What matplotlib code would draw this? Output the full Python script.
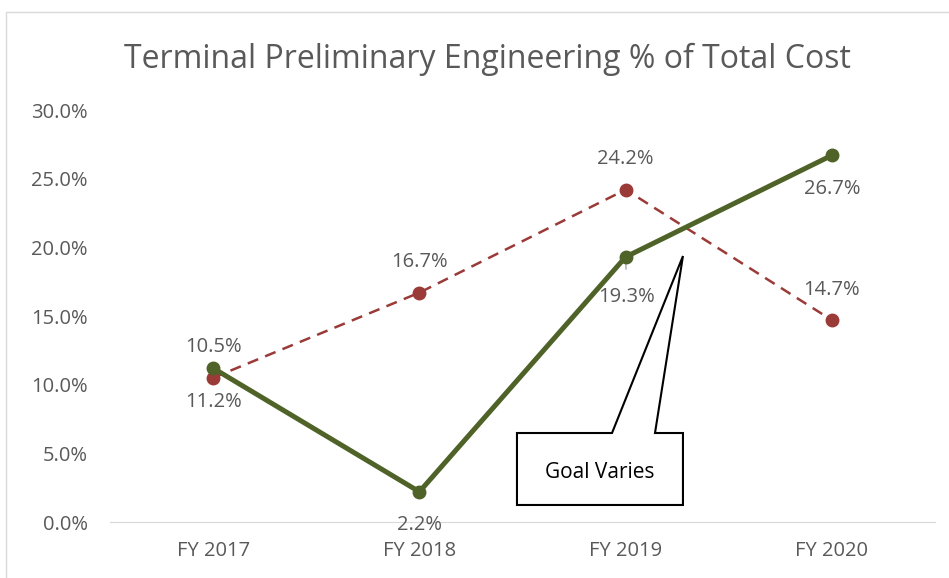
import matplotlib
matplotlib.use("Agg")
import matplotlib.pyplot as plt
from matplotlib.patches import Polygon, Rectangle
from matplotlib.ticker import PercentFormatter

# ── data ──────────────────────────────────────────────
years = ["FY 2017", "FY 2018", "FY 2019", "FY 2020"]
goal_pct = [10.5, 16.7, 24.2, 14.7]      # red dashed
actual_pct = [11.2, 2.2, 19.3, 26.7]     # green solid
title = "Terminal Preliminary Engineering % of Total Cost"

RED = "#9A3B38"
GREEN = "#4F6228"
GRAY = "#595959"

plt.rcParams["font.family"] = ["Open Sans", "DejaVu Sans"]

fig = plt.figure(figsize=(9.49, 5.78), dpi=100)
ax = fig.add_axes([110 / 949, 56 / 578, 825 / 949, 412 / 578])

# chart border
fig.patches.append(Rectangle((6 / 949, -0.1), 1.2, (578 - 12) / 578 + 0.1,
                             transform=fig.transFigure, fill=False,
                             edgecolor="#D9D9D9", linewidth=1.0))

x = list(range(len(years)))
ax.plot(x, goal_pct, color=RED, linewidth=1.8, linestyle=(0, (4.5, 3)),
        marker="o", markersize=9, zorder=3)
ax.plot(x, actual_pct, color=GREEN, linewidth=3.6, solid_capstyle="round",
        marker="o", markersize=9, zorder=4)

for i, v in enumerate(goal_pct):
    ax.annotate(f"{v:.1f}%", (i, v), xytext=(0, 22), textcoords="offset points",
                ha="center", va="center", fontsize=14.5, color=GRAY)
for i, v in enumerate(actual_pct):
    dy, dx = (-29, 1) if i == 2 else (-24, 0)
    ax.annotate(f"{v:.1f}%", (i, v), xytext=(dx, dy), textcoords="offset points",
                ha="center", va="center", fontsize=14.5, color=GRAY,
                arrowprops=dict(arrowstyle="-", color="#A6A6A6", lw=1,
                                shrinkA=11, shrinkB=3) if i == 2 else None)

ax.set_xlim(-0.5, len(years) - 0.5)
ax.set_ylim(0, 30)
ax.set_yticks(range(0, 31, 5))
ax.yaxis.set_major_formatter(PercentFormatter(decimals=1))
ax.set_xticks(x)
ax.set_xticklabels(years)
ax.tick_params(axis="both", length=0, labelsize=14.5, colors=GRAY)
ax.tick_params(axis="y", pad=16)
ax.tick_params(axis="x", pad=14)
for s in ("top", "right", "left"):
    ax.spines[s].set_visible(False)
ax.spines["bottom"].set_color("#D9D9D9")

# "Goal Varies" callout (wedge shape, axes coords)
callout = [(0.4933, 0.0413), (0.6945, 0.0413), (0.6945, 0.2160),
           (0.6606, 0.2160), (0.6945, 0.6456), (0.6085, 0.2160),
           (0.4933, 0.2160)]
ax.add_patch(Polygon(callout, closed=True, transform=ax.transAxes,
                     facecolor="white", edgecolor="black", linewidth=1.5,
                     zorder=5, clip_on=False))
ax.text(0.594, 0.119, "Goal Varies", transform=ax.transAxes, ha="center",
        va="center", fontsize=15, color="black", zorder=6)

fig.text(487 / 949, 1 - 59 / 578, title, ha="center", va="center",
         fontsize=23, color=GRAY)

fig.savefig("out.png", dpi=100)
